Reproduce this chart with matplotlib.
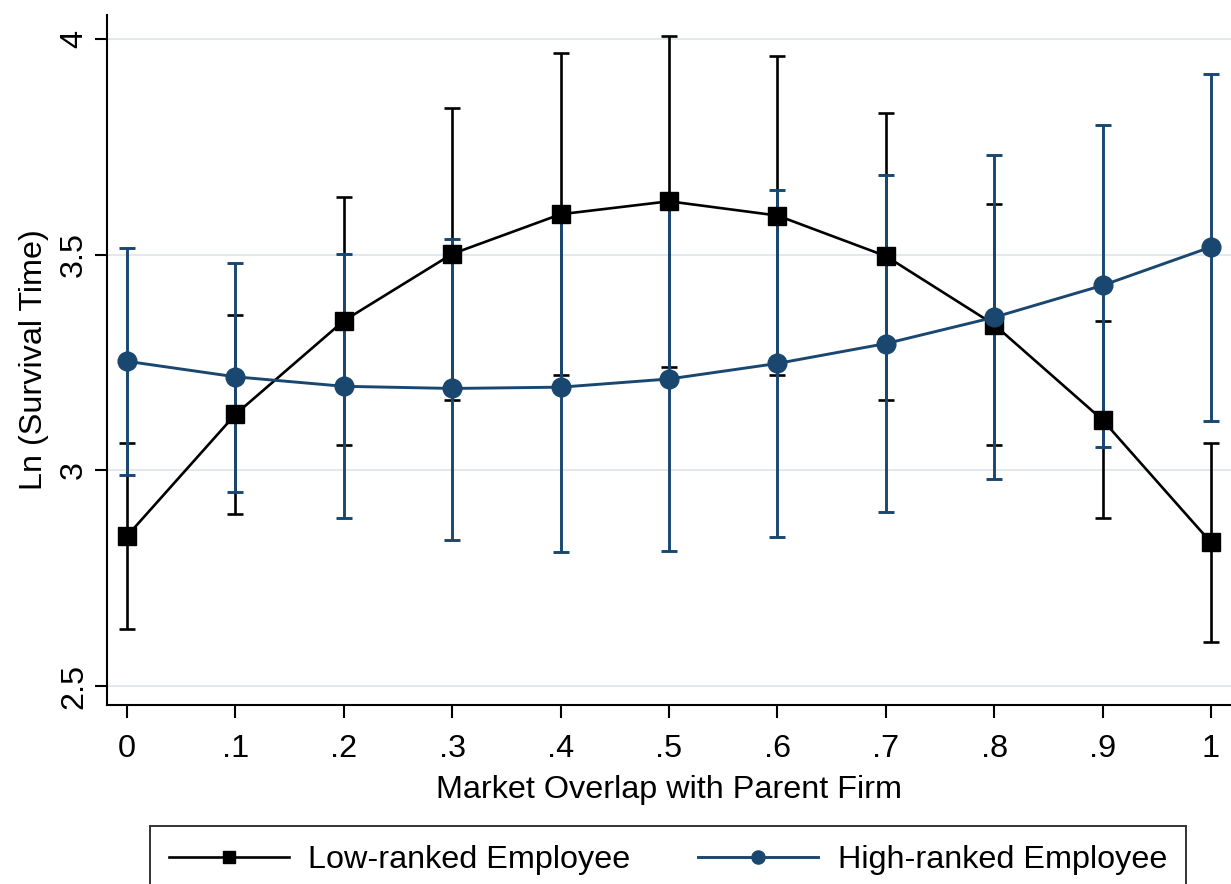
import matplotlib
matplotlib.use('Agg')
import matplotlib.pyplot as plt

# Data
overlap = [0.0, 0.1, 0.2, 0.3, 0.4, 0.5, 0.6, 0.7, 0.8, 0.9, 1.0]
tick_labels = ['0', '.1', '.2', '.3', '.4', '.5', '.6', '.7', '.8', '.9', '1']

low_mean = [2.848, 3.130, 3.347, 3.502, 3.594, 3.624, 3.591, 3.497, 3.338, 3.117, 2.833]
low_lo = [2.633, 2.898, 3.058, 3.164, 3.222, 3.240, 3.222, 3.164, 3.058, 2.889, 2.603]
low_hi = [3.064, 3.361, 3.633, 3.841, 3.967, 4.008, 3.960, 3.828, 3.617, 3.346, 3.064]

high_mean = [3.253, 3.217, 3.195, 3.190, 3.193, 3.212, 3.248, 3.294, 3.355, 3.429, 3.518]
high_lo = [2.990, 2.951, 2.890, 2.838, 2.811, 2.813, 2.846, 2.903, 2.979, 3.055, 3.114]
high_hi = [3.515, 3.482, 3.502, 3.537, 3.575, 3.611, 3.650, 3.686, 3.732, 3.802, 3.919]

y_ticks = [2.5, 3, 3.5, 4]
y_tick_labels = ['2.5', '3', '3.5', '4']

navy = '#1a476f'
plt.rcParams['font.family'] = ['Liberation Sans', 'DejaVu Sans']
fs = 23.3

fig = plt.figure(figsize=(12.31, 8.84), dpi=100)
ax = fig.add_axes([107 / 1231, 1 - 705 / 884, (1231 - 107) / 1231, (705 - 15) / 884])

# grid
for yv in y_ticks:
    ax.axhline(yv, color='#e1e9ee', lw=1.4, zorder=0)

# confidence intervals
low_err = [[m - l for m, l in zip(low_mean, low_lo)], [h - m for m, h in zip(low_mean, low_hi)]]
high_err = [[m - l for m, l in zip(high_mean, high_lo)], [h - m for m, h in zip(high_mean, high_hi)]]
ax.errorbar(overlap, low_mean, yerr=low_err, fmt='none', ecolor='black',
            elinewidth=1.9, capsize=6, capthick=1.9, zorder=2)
ax.errorbar(overlap, high_mean, yerr=high_err, fmt='none', ecolor=navy,
            elinewidth=2.1, capsize=6, capthick=2.1, zorder=3)

# lines with markers
ax.plot(overlap, low_mean, color='black', lw=1.9, marker='s', markersize=13,
        label='Low-ranked Employee', zorder=4)
ax.plot(overlap, high_mean, color=navy, lw=2.1, marker='o', markersize=13.5,
        label='High-ranked Employee', zorder=5)

ax.set_xlim(-0.0185, 1.0185)
ax.set_ylim(2.456, 4.056)
ax.set_xticks(overlap)
ax.set_xticklabels(tick_labels, fontsize=fs)
ax.set_yticks(y_ticks)
ax.set_yticklabels(y_tick_labels, fontsize=fs, rotation=90, va='center')

ax.spines['top'].set_visible(False)
ax.spines['right'].set_visible(False)
ax.spines['left'].set_linewidth(1.5)
ax.spines['bottom'].set_linewidth(1.5)
ax.tick_params(axis='both', direction='out', length=9, width=1.5)
ax.tick_params(axis='x', pad=12)
ax.tick_params(axis='y', pad=4)

ax.set_xlabel('Market Overlap with Parent Firm', fontsize=fs, labelpad=8)
ax.set_ylabel('Ln (Survival Time)', fontsize=fs, labelpad=7)

leg = fig.legend(loc='upper center', bbox_to_anchor=(668 / 1231, 1 - 826 / 884),
                 ncol=2, fontsize=fs, frameon=True, fancybox=False, edgecolor='black',
                 handlelength=3.7, handletextpad=0.6, columnspacing=2.1,
                 borderpad=0.6, borderaxespad=0, markerscale=0.7)
leg.get_frame().set_linewidth(1.4)

fig.savefig('out.png', dpi=100)
